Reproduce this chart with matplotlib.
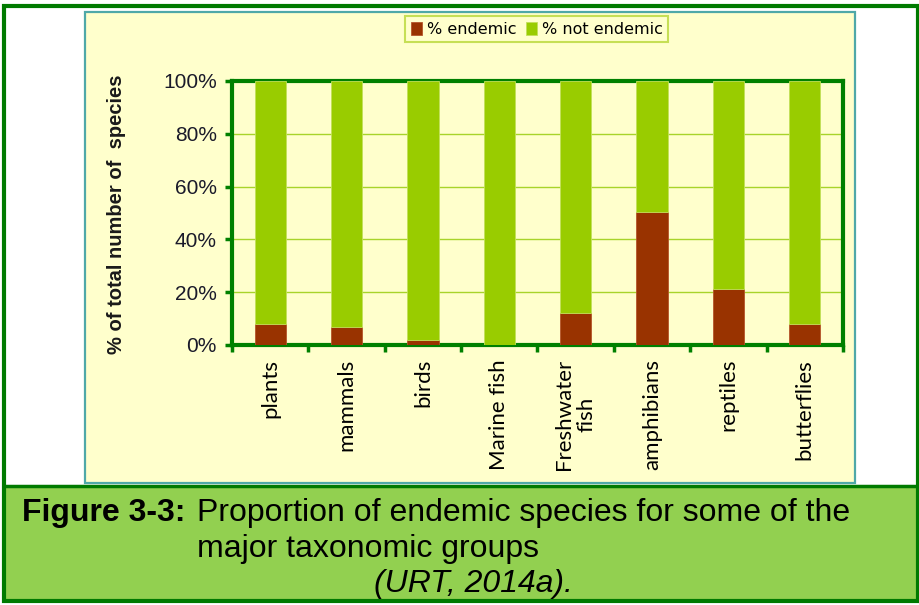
import matplotlib
matplotlib.use("Agg")
import matplotlib.pyplot as plt
import matplotlib.patches as mpatches
import numpy as np

# ── data ───────────────────────────────────────────────
groups = ["plants", "mammals", "birds", "Marine fish", "Freshwater\nfish",
          "amphibians", "reptiles", "butterflies"]
endemic = [8.0, 6.7, 1.8, 0.0, 12.2, 50.5, 21.3, 8.0]
not_endemic = [100 - v for v in endemic]
yticks = [0, 20, 40, 60, 80, 100]

# ── colours ────────────────────────────────────────────
C = {
    "frame":   "#007A00",
    "axis":    "#008000",
    "chartbg": "#FFFFCC",
    "teal":    "#4FA8A8",
    "band":    "#92D050",
    "endemic": "#993300",
    "notend":  "#99CC00",
    "grid":    "#A8D42A",
}

W, H = 920, 605
fig = plt.figure(figsize=(W / 100, H / 100), dpi=100)
fig.patch.set_facecolor("white")


def fx(x):
    return x / W


def fy(y):
    return 1 - y / H


def box(x0, y0, x1, y1, **kw):
    r = mpatches.Rectangle((fx(x0), fy(y1)), fx(x1) - fx(x0), fy(y0) - fy(y1),
                           transform=fig.transFigure, zorder=-1, **kw)
    fig.patches.append(r)


# page frame, chart panel, caption band
box(4, 6, 918, 601, facecolor="white", edgecolor="none")
box(85, 12, 855, 483, facecolor=C["chartbg"], edgecolor=C["teal"], linewidth=1.6)
box(4, 486, 918, 601, facecolor=C["band"], edgecolor="none")
box(4, 6, 918, 601, facecolor="none", edgecolor=C["frame"], linewidth=3)
fig.lines.append(plt.Line2D([fx(4), fx(918)], [fy(486), fy(486)],
                            transform=fig.transFigure, color=C["frame"], linewidth=2.5))

# ── chart ──────────────────────────────────────────────
ax = fig.add_axes([fx(232), fy(345), fx(843) - fx(232), fy(81) - fy(345)])
ax.set_facecolor("none")
x = np.arange(len(groups))
b1 = ax.bar(x, endemic, width=0.41, color=C["endemic"], edgecolor="#B5552A",
            linewidth=0.6, label="% endemic", zorder=3)
b2 = ax.bar(x, not_endemic, width=0.41, bottom=endemic, color=C["notend"],
            edgecolor="#C2E05A", linewidth=0.6, label="% not endemic", zorder=3)

ax.set_xlim(-0.5, len(groups) - 0.5)
ax.set_ylim(0, 100)
ax.set_yticks(yticks)
ax.set_yticklabels([f"{v}%" for v in yticks], fontsize=15,
                   family="Liberation Sans", color="#1A1A2A")
ax.set_xticks(x)
ax.set_xticklabels(groups, rotation=90, va="top", ha="center",
                   multialignment="center", fontsize=16, family="Lato",
                   color="black", linespacing=1.15)
ax.set_xticks(np.arange(-0.5, len(groups)), minor=True)
ax.tick_params(axis="x", which="major", length=0, pad=10)
ax.tick_params(axis="x", which="minor", length=5, width=2.5, color=C["axis"],
               direction="out")
ax.tick_params(axis="y", length=5, width=2.5, color=C["axis"], pad=6)
for s in ax.spines.values():
    s.set_color(C["axis"])
    s.set_linewidth(3)
ax.grid(axis="y", color=C["grid"], linewidth=1.0, zorder=1)
ax.set_axisbelow(True)

fig.text(fx(117), fy(214), "% of total number of  species", rotation=90,
         ha="center", va="center", fontsize=14.5, fontweight="bold",
         family="Liberation Sans", color="#1A1A1A")

leg = fig.legend(handles=[b1, b2], loc="upper left",
                 bbox_to_anchor=(fx(405), fy(16)), ncol=2, frameon=True,
                 fancybox=False, fontsize=11.5, handlelength=0.7,
                 handleheight=0.9, handletextpad=0.3, columnspacing=0.6,
                 borderpad=0.35, borderaxespad=0)
leg.get_frame().set_facecolor(C["chartbg"])
leg.get_frame().set_edgecolor("#B8D838")
leg.get_frame().set_linewidth(1.5)

# ── caption ────────────────────────────────────────────
cap = dict(fontsize=23, family="Liberation Sans", color="black", va="baseline")
fig.text(fx(22), fy(521), "Figure 3-3:", fontweight="bold", **cap)
fig.text(fx(197), fy(521), "Proportion of endemic species for some of the", **cap)
fig.text(fx(197), fy(557), "major taxonomic groups", **cap)
fig.text(fx(473), fy(592), "(URT, 2014a).", ha="center", style="italic", **cap)

fig.savefig("out.png", dpi=100, facecolor=fig.get_facecolor())
